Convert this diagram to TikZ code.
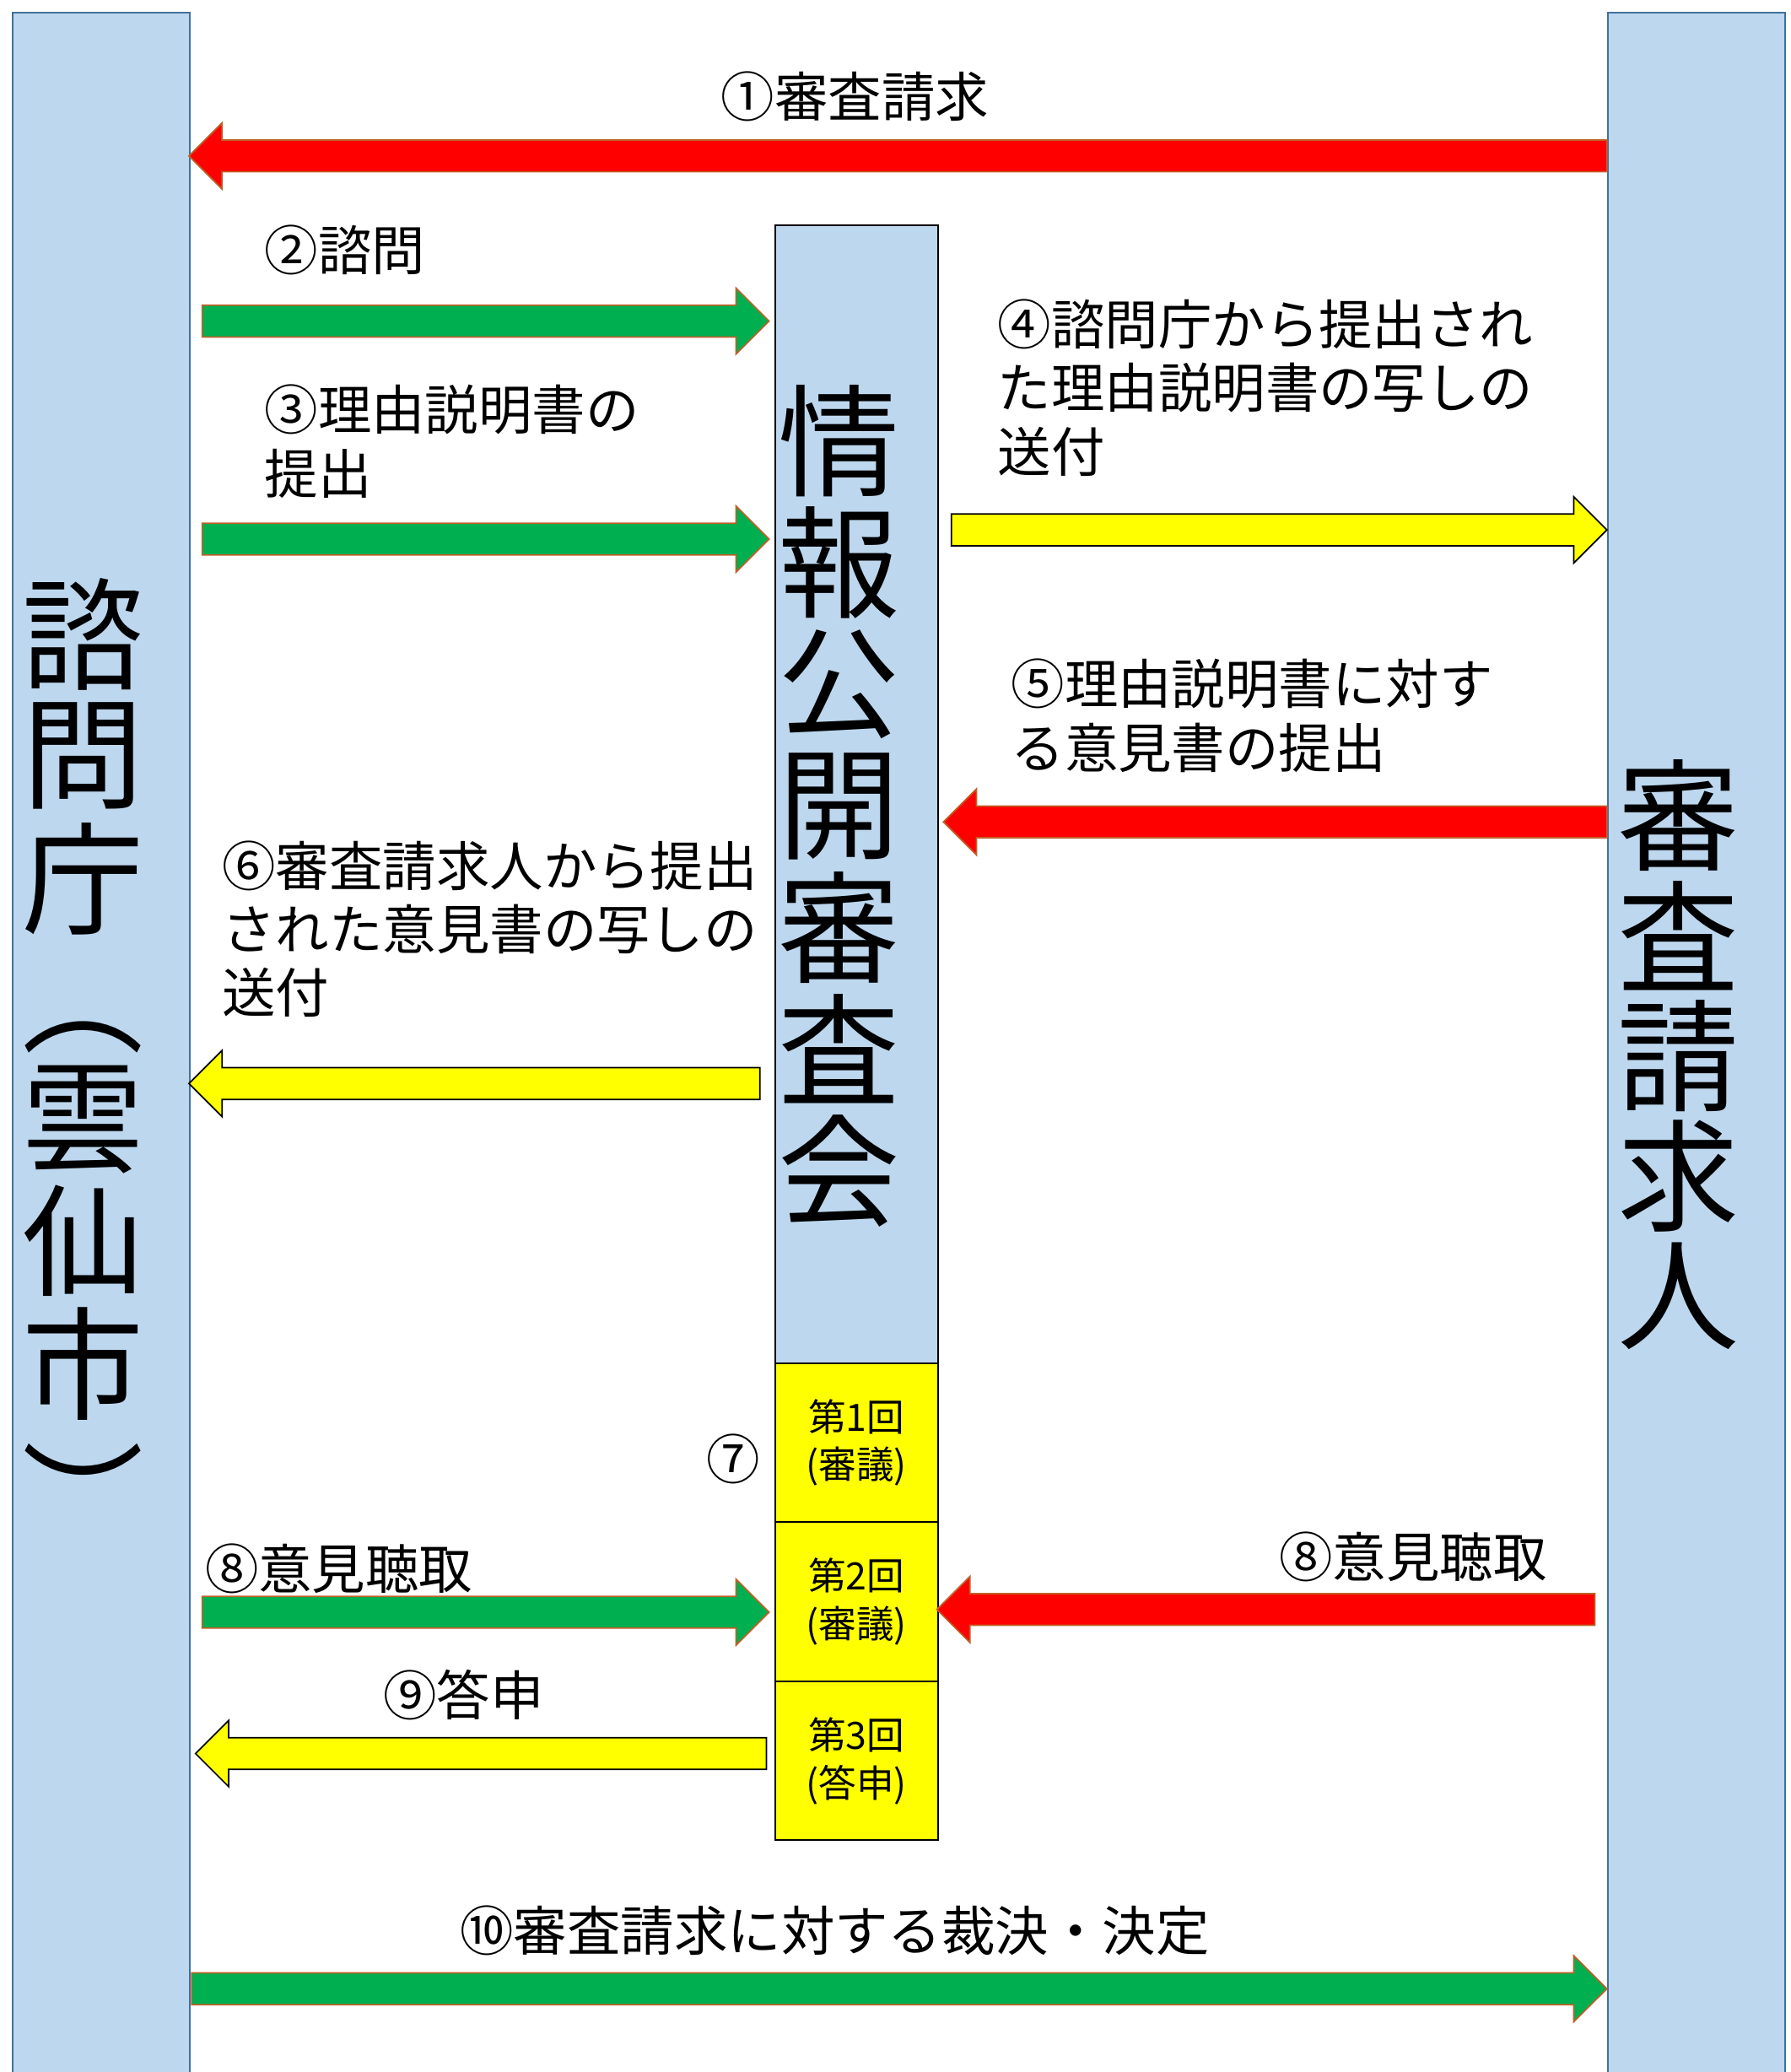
\documentclass[tikz,border=0pt]{standalone}
\usepackage{fontspec}
\setmainfont{Noto Sans CJK JP}
\usetikzlibrary{calc}
\definecolor{colfill}{RGB}{189,215,238}
\definecolor{colline}{RGB}{65,113,156}
\definecolor{arrline}{RGB}{192,96,40}
\definecolor{agreen}{RGB}{0,176,80}
\definecolor{ared}{RGB}{255,0,0}
\definecolor{ayellow}{RGB}{255,255,0}
\tikzset{
  blockarrow/.style={line width=1.1pt, line join=miter,
    to path={let \p1=(\tikztostart), \p2=(\tikztotarget),
      \n2={\x2-ifthenelse(\x2>\x1,25,-25)} in
      (\x1,\y1+12pt) -- (\n2*1pt,\y1+12pt) -- (\n2*1pt,\y1+25pt) -- (\x2,\y1)
      -- (\n2*1pt,\y1-25pt) -- (\n2*1pt,\y1-12pt) -- (\x1,\y1-12pt) -- cycle}},
  greenarrow/.style={blockarrow, fill=agreen, draw=arrline},
  redarrow/.style={blockarrow, fill=ared, draw=arrline},
  yellowarrow/.style={blockarrow, fill=ayellow, draw=black},
  column/.style={draw=colline, fill=colfill, line width=1.3pt, anchor=north west,
    inner sep=0pt, minimum width=134pt, minimum height=1590pt},
  centerbox/.style={draw=black, fill=colfill, line width=1.3pt, anchor=north west,
    inner sep=0pt, minimum width=123pt},
  roundbox/.style={draw=black, fill=ayellow, line width=1.3pt, anchor=north west,
    inner sep=0pt, minimum width=123pt, align=center,
    font=\fontsize{28.5}{36}\selectfont},
  bigch/.style={inner sep=0pt, anchor=center, font=\fontsize{92}{92}\selectfont},
  lbl/.style={inner sep=0pt, anchor=base west, font=\fontsize{40.5}{48.5}\selectfont},
}
\begin{document}
\begin{tikzpicture}[x=1pt,y=-1pt]
\useasboundingbox (0,0) rectangle (1355,1568);
\fill[white] (0,0) rectangle (1355,1568);
% columns
\node[column] (L) at (9,9) {};
\node[column] (R) at (1216,9) {};
% central box
\node[centerbox, minimum height=861pt] (C) at (586,170) {};
\node[roundbox, minimum height=120pt] (Y1) at (586,1031) {第1回\\(審議)};
\node[roundbox, minimum height=121pt] (Y2) at (586,1151) {第2回\\(審議)};
\node[roundbox, minimum height=120pt] (Y3) at (586,1272) {第3回\\(答申)};
% vertical texts
\node[bigch] (lv1) at (63,480) {諮};
\node[bigch] (lv2) at (63,572) {問};
\node[bigch] (lv3) at (63,665) {庁};
\node[bigch] (lv4) at (63,785) {︵};
\node[bigch] (lv5) at (63,847) {雲};
\node[bigch] (lv6) at (63,939) {仙};
\node[bigch] (lv7) at (63,1032) {市};
\node[bigch] (lv8) at (63,1131) {︶};
\node[bigch] (rv1) at (1270,617) {審};
\node[bigch] (rv2) at (1270,708) {査};
\node[bigch] (rv3) at (1270,799) {請};
\node[bigch] (rv4) at (1270,890) {求};
\node[bigch] (rv5) at (1270,981) {人};
\node[bigch] (cv1) at (635,334) {情};
\node[bigch] (cv2) at (635,426) {報};
\node[bigch] (cv3) at (635,518) {公};
\node[bigch] (cv4) at (635,610) {開};
\node[bigch] (cv5) at (635,702) {審};
\node[bigch] (cv6) at (635,794) {査};
\node[bigch] (cv7) at (635,886) {会};
% labels
\node[lbl, anchor=base] (t1) at (647,88.5) {①審査請求};
\node[lbl] (t2) at (200,204.5) {②諮問};
\node[lbl] (t3a) at (200,325.5) {③理由説明書の};
\node[lbl] (t3b) at (200,373.5) {提出};
\node[lbl] (t4a) at (755,260.5) {④諮問庁から提出され};
\node[lbl] (t4b) at (755,308.5) {た理由説明書の写しの};
\node[lbl] (t4c) at (755,357.5) {送付};
\node[lbl] (t5a) at (765,532.5) {⑤理由説明書に対す};
\node[lbl] (t5b) at (765,581.5) {る意見書の提出};
\node[lbl] (t6a) at (168,670.5) {⑥審査請求人から提出};
\node[lbl] (t6b) at (168,718.5) {された意見書の写しの};
\node[lbl] (t6c) at (168,766.5) {送付};
\node[lbl, anchor=center] (t7) at (555,1104) {⑦};
\node[lbl] (t8l) at (155,1202.5) {⑧意見聴取};
\node[lbl] (t8r) at (968,1193.5) {⑧意見聴取};
\node[lbl] (t9) at (290,1298.5) {⑨答申};
\node[lbl] (t10) at (348,1476.5) {⑩審査請求に対する裁決・決定};
% arrow end points
\coordinate (a1s) at (1216,118);  \coordinate (a1e) at (143,118);
\coordinate (a2s) at (153,243);   \coordinate (a2e) at (582,243);
\coordinate (a3s) at (153,408);   \coordinate (a3e) at (582,408);
\coordinate (a4s) at (720,401);   \coordinate (a4e) at (1216,401);
\coordinate (a5s) at (1216,622);  \coordinate (a5e) at (714,622);
\coordinate (a6s) at (575,820);   \coordinate (a6e) at (143,820);
\coordinate (a8ls) at (153,1220); \coordinate (a8le) at (582,1220);
\coordinate (a8rs) at (1207,1218);\coordinate (a8re) at (709,1218);
\coordinate (a9s) at (580,1327);  \coordinate (a9e) at (148,1327);
\coordinate (a10s) at (145,1505); \coordinate (a10e) at (1216,1505);
% arrows
\draw[redarrow] (a1s) to (a1e);
\draw[greenarrow] (a2s) to (a2e);
\draw[greenarrow] (a3s) to (a3e);
\draw[yellowarrow] (a4s) to (a4e);
\draw[redarrow] (a5s) to (a5e);
\draw[yellowarrow] (a6s) to (a6e);
\draw[greenarrow] (a8ls) to (a8le);
\draw[redarrow] (a8rs) to (a8re);
\draw[yellowarrow] (a9s) to (a9e);
\draw[greenarrow] (a10s) to (a10e);
\end{tikzpicture}
\end{document}
